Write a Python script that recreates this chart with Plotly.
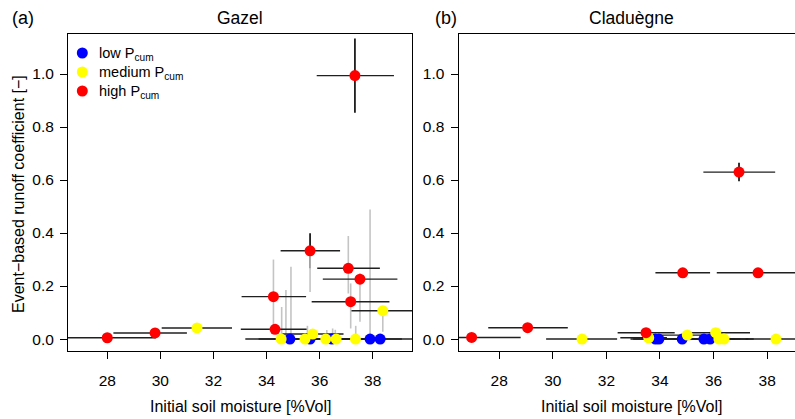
import plotly.graph_objects as go

W, H = 795, 419

# ---------------- data ----------------
classes = ["low", "medium", "high"]
class_colors = ["#0000ff", "#ffff00", "#ff0000"]
class_labels = ["low P<sub>cum</sub>", "medium P<sub>cum</sub>", "high P<sub>cum</sub>"]

# Gazel (panel a)
gz_cls = ["low", "low", "low", "low", "low",
          "medium", "medium", "medium", "medium", "medium", "medium", "medium", "medium",
          "high", "high", "high", "high", "high", "high", "high", "high", "high"]
gz_x = [34.88, 35.64, 36.46, 37.90, 38.28,
        31.38, 34.55, 35.45, 35.74, 36.23, 36.62, 37.35, 38.38,
        28.00, 29.80, 34.26, 34.32, 35.64, 37.08, 37.17, 37.52, 37.33]
gz_y = [0.0, 0.0, 0.0, 0.0, 0.0,
        0.042, 0.0, 0.0, 0.019, 0.0, 0.0, 0.0, 0.107,
        0.005, 0.023, 0.160, 0.037, 0.333, 0.267, 0.141, 0.226, 0.994]
gz_xlo = [33.70, 34.50, 35.30, 36.70, 37.10,
          30.05, 33.20, 34.30, 34.60, 35.00, 35.50, 36.20, 37.20,
          26.20, 28.23, 33.06, 33.03, 34.53, 35.91, 35.70, 36.12, 35.89]
gz_xhi = [36.10, 36.80, 37.60, 39.10, 39.60,
          32.70, 35.80, 36.60, 36.90, 37.40, 37.80, 38.50, 39.60,
          29.83, 31.00, 35.49, 35.51, 36.77, 38.27, 38.63, 38.93, 38.80]
gz_ysd = [0, 0, 0, 0, 0,
          0, 0, 0, 0, 0, 0, 0, 0,
          0, 0, 0, 0, 0.066, 0, 0, 0, 0.14]
gz_gray_x = [34.26, 34.57, 34.73, 34.92, 35.54, 35.64, 36.27, 36.49, 36.59,
             37.08, 37.17, 37.36, 37.52, 37.90, 38.38]
gz_gray_lo = [0.04, 0.0, 0.0, 0.0, 0.0, 0.178, 0.0, 0.0, 0.0,
              0.172, 0.04, 0.0, 0.065, 0.0, 0.028]
gz_gray_hi = [0.30, 0.121, 0.185, 0.273, 0.05, 0.333, 0.034, 0.04, 0.035,
              0.389, 0.21, 0.05, 0.248, 0.489, 0.107]

# Claduègne (panel b)
cl_cls = ["low", "low", "low", "low", "low",
          "medium", "medium", "medium", "medium", "medium", "medium", "medium",
          "high", "high", "high", "high", "high", "high"]
cl_x = [33.83, 33.96, 34.83, 35.64, 35.87,
        31.09, 33.58, 35.02, 36.08, 36.20, 36.39, 38.33,
        26.97, 29.06, 33.48, 34.85, 37.66, 36.95]
cl_y = [0.0, 0.0, 0.0, 0.0, 0.0,
        0.0, 0.005, 0.015, 0.024, 0.0, 0.0, 0.0,
        0.006, 0.043, 0.024, 0.250, 0.250, 0.630]
cl_xlo = [32.90, 33.00, 33.70, 34.50, 34.80,
          29.75, 32.52, 34.00, 35.07, 35.10, 35.30, 37.20,
          25.10, 27.59, 32.42, 33.83, 36.12, 35.62]
cl_xhi = [35.20, 35.30, 36.00, 36.80, 37.00,
          32.40, 34.26, 36.20, 37.36, 37.30, 37.50, 39.50,
          28.80, 30.56, 34.55, 35.87, 39.20, 38.30]
cl_ysd = [0, 0, 0, 0, 0,
          0, 0, 0, 0, 0, 0, 0,
          0, 0, 0, 0, 0, 0.035]

x_ticks = [28, 30, 32, 34, 36, 38]
y_ticks = [0.0, 0.2, 0.4, 0.6, 0.8, 1.0]

# ---------------- helpers ----------------
def fx(px):
    return px / W

def fy(py):
    return 1 - py / H

def hsegs(x, y, lo, hi):
    xs, ys = [], []
    for xi, yi, a, b in zip(x, y, lo, hi):
        xs += [a, b, None]
        ys += [yi, yi, None]
    return xs, ys

def vsegs(x, lo, hi):
    xs, ys = [], []
    for xi, a, b in zip(x, lo, hi):
        xs += [xi, xi, None]
        ys += [a, b, None]
    return xs, ys

fig = go.Figure()

def add_panel(xa, ya, cls, x, y, xlo, xhi, ysd, gx=None, glo=None, ghi=None):
    bx = [xi for xi, s in zip(x, ysd) if s > 0]
    blo = [yi - s for yi, s in zip(y, ysd) if s > 0]
    bhi = [yi + s for yi, s in zip(y, ysd) if s > 0]
    vx, vy = vsegs(bx, blo, bhi)
    fig.add_trace(go.Scatter(x=vx, y=vy, mode="lines", line=dict(color="#000000", width=1.6),
                             xaxis=xa, yaxis=ya, showlegend=False, hoverinfo="skip"))
    if gx is not None:
        gxs, gys = vsegs(gx, glo, ghi)
        fig.add_trace(go.Scatter(x=gxs, y=gys, mode="lines", line=dict(color="#c4c4c4", width=1.6),
                                 xaxis=xa, yaxis=ya, showlegend=False, hoverinfo="skip"))
    hx, hy = hsegs(x, y, xlo, xhi)
    fig.add_trace(go.Scatter(x=hx, y=hy, mode="lines", line=dict(color="#202020", width=1.4),
                             xaxis=xa, yaxis=ya, showlegend=False, hoverinfo="skip"))
    for c, col, lab in zip(classes, class_colors, class_labels):
        px_ = [xi for xi, k in zip(x, cls) if k == c]
        py_ = [yi for yi, k in zip(y, cls) if k == c]
        fig.add_trace(go.Scatter(x=px_, y=py_, mode="markers", name=lab,
                                 marker=dict(color=col, size=11, line=dict(width=0)),
                                 xaxis=xa, yaxis=ya, showlegend=False))

add_panel("x", "y", gz_cls, gz_x, gz_y, gz_xlo, gz_xhi, gz_ysd,
          gz_gray_x, gz_gray_lo, gz_gray_hi)
add_panel("x2", "y2", cl_cls, cl_x, cl_y, cl_xlo, cl_xhi, cl_ysd)

font_family = "Liberation Sans, Arial, sans-serif"
ydom = [fy(351), fy(34)]
axis_common = dict(showgrid=False, zeroline=False, showline=True, linecolor="#000000", linewidth=1,
                   ticks="outside", ticklen=7, tickwidth=1, tickcolor="#000000",
                   tickfont=dict(family=font_family, size=15.5, color="#000000"))

fig.update_layout(
    width=W, height=H, autosize=False,
    margin=dict(l=0, r=0, t=0, b=0),
    paper_bgcolor="#ffffff", plot_bgcolor="#ffffff",
    font=dict(family=font_family, color="#000000"),
    xaxis=dict(domain=[fx(68), fx(412)], range=[26.52, 39.48], anchor="y", mirror=True,
               tickvals=x_ticks, ticklabelstandoff=8, **axis_common),
    yaxis=dict(domain=ydom, range=[-0.045, 1.151], anchor="x", mirror=True,
               tickvals=y_ticks, tickformat=".1f", ticklabelstandoff=3, **axis_common),
    xaxis2=dict(domain=[fx(458.5), 1.0], range=[26.48, 39.04], anchor="y2", mirror=True,
                tickvals=x_ticks, ticklabelstandoff=8, **axis_common),
    yaxis2=dict(domain=ydom, range=[-0.045, 1.151], anchor="x2",
                tickvals=y_ticks, tickformat=".1f", ticklabelstandoff=3, **axis_common),
    showlegend=False,
)

# legend (drawn inside panel a, as in the original)
leg_y = [53, 72, 91]
for col, lab, py in zip(class_colors, class_labels, leg_y):
    r = 5.5
    fig.add_shape(type="circle", xref="paper", yref="paper",
                  x0=fx(82.3 - r), x1=fx(82.3 + r), y0=fy(py + r), y1=fy(py - r),
                  fillcolor=col, line=dict(width=0))
    fig.add_annotation(text=lab, x=fx(96.5), y=fy(py + 1), xref="paper", yref="paper",
                       xanchor="left", yanchor="middle", showarrow=False,
                       font=dict(family=font_family, size=14.5, color="#000000"))

ann = [
    dict(text="Gazel", x=fx(240), y=fy(18), size=17.5),
    dict(text="Claduègne", x=fx(631), y=fy(18), size=17.5),
    dict(text="(a)", x=fx(23), y=fy(18), size=18),
    dict(text="(b)", x=fx(446), y=fy(18), size=18),
    dict(text="Initial soil moisture [%Vol]", x=fx(240), y=fy(406), size=16),
    dict(text="Initial soil moisture [%Vol]", x=fx(631), y=fy(406), size=16),
]
for a in ann:
    fig.add_annotation(text=a["text"], x=a["x"], y=a["y"], xref="paper", yref="paper",
                       xanchor="center", yanchor="middle", showarrow=False,
                       font=dict(family=font_family, size=a["size"], color="#000000"))
fig.add_annotation(text="Event\u2212based runoff coefficient [\u2212]", x=fx(18), y=fy(194),
                   xref="paper", yref="paper", xanchor="center", yanchor="middle",
                   showarrow=False, textangle=-90,
                   font=dict(family=font_family, size=16, color="#000000"))

fig.write_html("out.html", config={"displayModeBar": False},
               post_script="document.body.style.margin='0';document.body.style.overflow='hidden';")
